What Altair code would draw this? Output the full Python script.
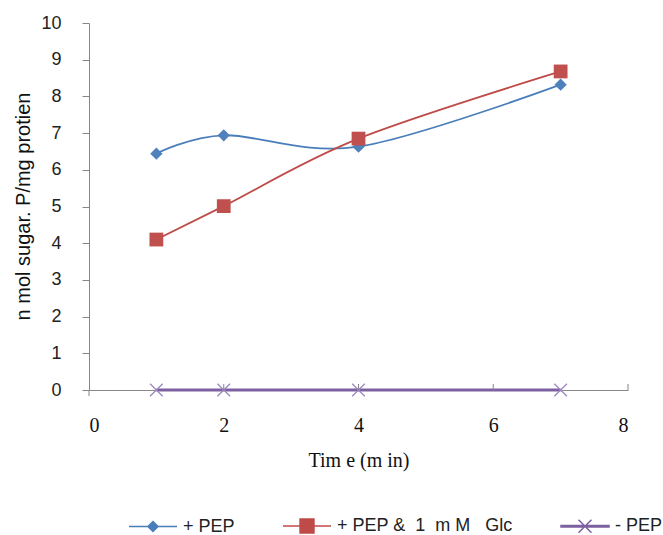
import altair as alt
import pandas as pd

# Sampling times (min) and measured uptake (n mol sugar-P / mg protein)
times = [1, 2, 4, 7]
plus_pep = [6.44, 6.94, 6.63, 8.32]
plus_pep_glc = [4.10, 5.01, 6.85, 8.68]
minus_pep = [0, 0, 0, 0]

series_names = ["+ PEP", "+ PEP & 1 mM Glc", "- PEP"]
line_colors = ["#4A7EBB", "#BE4B48", "#7D60A0"]
marker_colors = ["#4F81BD", "#C0504D", "#9D88C2"]

x_ticks = [0, 2, 4, 6, 8]
x_inner_ticks = [2, 4, 6, 8]
y_ticks = list(range(0, 11))

# Legend glyphs: a short line with the series marker in its middle
legend_paths = [
    "M-1,0L1,0M0,-0.21L0.21,0L0,0.21L-0.21,0Z",
    "M-1,0L1,0M-0.29,-0.29L0.29,-0.29L0.29,0.29L-0.29,0.29Z",
    "M-1,-0.03L1,-0.03L1,0.03L-1,0.03ZM-0.27,-0.27L0.27,0.27M-0.27,0.27L0.27,-0.27",
]
NB = "\u00a0"
glc_label = f"+ PEP &{NB} 1 {NB}m{NB}M{NB}{NB} Glc"

rows = []
for name, vals in zip(series_names, [plus_pep, plus_pep_glc, minus_pep]):
    for t, v in zip(times, vals):
        rows.append({"series": name, "time": t, "value": v})
df = pd.DataFrame(rows)

AXIS_GRAY = "#868686"
SANS = "Liberation Sans"
SERIF = "Liberation Serif"

x_scale = alt.Scale(domain=[0, 8], nice=False)
y_scale = alt.Scale(domain=[0, 10], nice=False)

x_axis = alt.Axis(
    values=x_ticks,
    format="d",
    ticks=False,
    grid=False,
    domainColor=AXIS_GRAY,
    domainWidth=1,
    labelFont=SERIF,
    labelFontSize=20,
    labelColor="#111111",
    labelPadding=25,
    title="Tim e (m in)",
    titleFont=SERIF,
    titleFontSize=20,
    titleFontWeight="normal",
    titleColor="#111111",
    titleY=70,
    titleBaseline="middle",
)
y_axis = alt.Axis(
    values=y_ticks,
    format="d",
    grid=False,
    labelOverlap=False,
    domainColor=AXIS_GRAY,
    domainWidth=1,
    tickColor=AXIS_GRAY,
    tickSize=7,
    labelFont=SANS,
    labelFontSize=18,
    labelColor="#222222",
    labelPadding=21,
    title="n mol sugar. P/mg protien",
    titleFont=SANS,
    titleFontSize=20,
    titleFontWeight="normal",
    titleColor="#111111",
    titleAngle=270,
    titleBaseline="middle",
    titleX=-66,
    titleY=183,
)

x_enc = alt.X("time:Q", scale=x_scale, axis=x_axis)
y_enc = alt.Y("value:Q", scale=y_scale, axis=y_axis)
y_zero = alt.Y(datum=0, scale=y_scale, axis=y_axis)

base = alt.Chart(df)


def series_line(name, color, width, interp):
    return (
        base.transform_filter(alt.datum.series == name)
        .mark_line(color=color, strokeWidth=width, interpolate=interp)
        .encode(x=x_enc, y=y_enc)
    )


def series_points(name, **mark_kw):
    return (
        base.transform_filter(alt.datum.series == name)
        .mark_point(opacity=1, **mark_kw)
        .encode(x=x_enc, y=y_enc)
    )


blue_line = series_line(series_names[0], line_colors[0], 1.8, "cardinal")
blue_pts = series_points(series_names[0], shape="diamond", filled=True,
                         color=marker_colors[0], size=150)
red_line = series_line(series_names[1], line_colors[1], 1.8, "cardinal")
red_pts = series_points(series_names[1], shape="square", filled=True,
                        color=marker_colors[1], size=190)
purple_line = series_line(series_names[2], line_colors[2], 3, "linear")
purple_pts = series_points(series_names[2], shape="M-1,-1L1,1M-1,1L1,-1",
                           filled=False, color=marker_colors[2],
                           strokeWidth=1.3, size=160)

# Inward tick marks on the time axis, plus the short stub below the origin
tick_df = pd.DataFrame({"time": x_inner_ticks})
x_tick_marks = (
    alt.Chart(tick_df)
    .mark_rule(color=AXIS_GRAY, strokeWidth=1)
    .encode(x=x_enc, y=y_zero, y2=alt.value(361))
)
origin_df = pd.DataFrame({"time": [0]})
origin_stub = (
    alt.Chart(origin_df)
    .mark_rule(color=AXIS_GRAY, strokeWidth=1)
    .encode(x=x_enc, y=y_zero, y2=alt.value(373))
)

legend_def = alt.Legend(
    title=None,
    orient="none",
    direction="horizontal",
    legendX=39,
    legendY=478,
    padding=0,
    symbolSize=2304,
    symbolStrokeWidth=1.5,
    symbolOpacity=1,
    labelFont=SANS,
    labelFontSize=18,
    labelColor="#222222",
    labelOffset=5,
    labelLimit=400,
    columnPadding=45,
    labelExpr=f"datum.label == '{series_names[1]}' ? '{glc_label}' : datum.label",
)
legend_layer = (
    base.transform_filter("false")
    .mark_point(filled=True, opacity=1)
    .encode(
        fill=alt.Fill("series:N", scale=alt.Scale(domain=series_names, range=line_colors),
                      legend=legend_def),
        stroke=alt.Stroke("series:N", scale=alt.Scale(domain=series_names, range=line_colors),
                          legend=legend_def),
        shape=alt.Shape("series:N", scale=alt.Scale(domain=series_names, range=legend_paths),
                        legend=legend_def),
    )
)

chart = (
    alt.layer(
        blue_line, blue_pts,
        red_line, red_pts,
        purple_line, purple_pts,
        x_tick_marks, origin_stub,
        legend_layer,
    )
    .properties(
        width=539,
        height=367,
        padding={"left": 89, "top": 23, "right": 35, "bottom": 145},
        autosize=alt.AutoSizeParams(type="none"),
        background="white",
    )
    .configure_view(stroke=None)
)

chart.save("out.html", embed_options={"renderer": "svg", "actions": False})
